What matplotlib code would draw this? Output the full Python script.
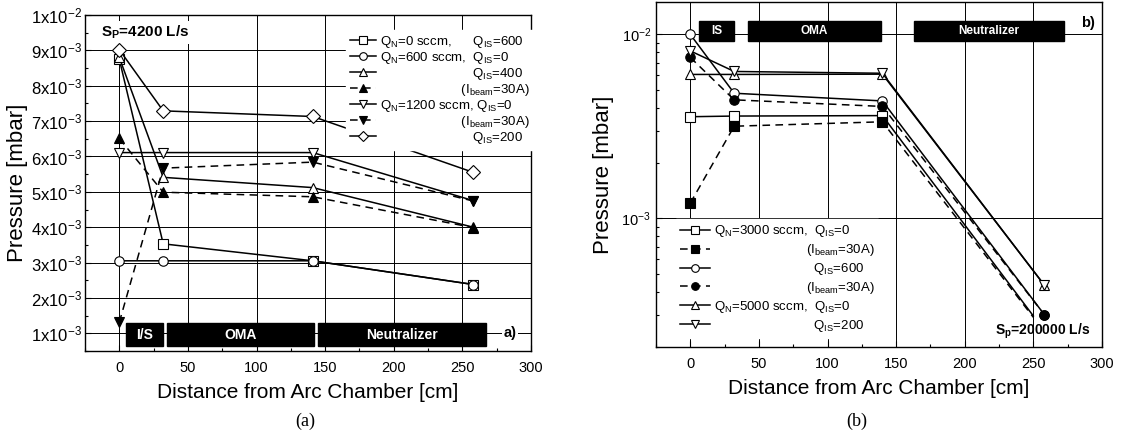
import matplotlib
matplotlib.use("Agg")
from matplotlib import pyplot as plt
from matplotlib.patches import Rectangle
from matplotlib.lines import Line2D
from matplotlib.ticker import MultipleLocator, LogLocator, NullFormatter

plt.rcParams['font.family'] = ['Liberation Sans', 'DejaVu Sans']
plt.rcParams['mathtext.fontset'] = 'custom'
plt.rcParams['mathtext.rm'] = 'Liberation Sans'
plt.rcParams['mathtext.it'] = 'Liberation Sans'
plt.rcParams['mathtext.bf'] = 'Liberation Sans:bold'

# ---- panel (a): Sp = 4200 L/s, pressure in mbar
dist_a = [0, 32, 141, 258]
qn0_qis600 = [8.75e-3, 3.53e-3, 3.05e-3, 2.38e-3]
qn600_qis0 = [3.05e-3, 3.05e-3, 3.05e-3, 2.38e-3]
qn600_qis400 = [8.8e-3, 5.41e-3, 5.12e-3, 4.0e-3]
qn600_qis400_beam = [6.51e-3, 4.99e-3, 4.86e-3, 3.99e-3]
qn1200_qis0 = [6.11e-3, 6.11e-3, 6.11e-3, 4.75e-3]
qn1200_qis0_beam = [1.31e-3, 5.67e-3, 5.84e-3, 4.74e-3]
qn1200_qis200 = [9.02e-3, 7.29e-3, 7.13e-3, 5.55e-3]

sp = ' '
labels_a = [
    r'Q$_{N}$=0 sccm,' + sp * 6 + r'Q$_{IS}$=600',
    r'Q$_{N}$=600 sccm,' + sp * 2 + r'Q$_{IS}$=0',
    sp * 25 + r'Q$_{IS}$=400',
    sp * 22 + r'(I$_{beam}$=30A)',
    r'Q$_{N}$=1200 sccm,' + sp + r'Q$_{IS}$=0',
    sp * 22 + r'(I$_{beam}$=30A)',
    sp * 25 + r'Q$_{IS}$=200',
]

# ---- panel (b): Sp = 200000 L/s
dist_b = [0, 32, 140, 258]
dist_b_sq = [0, 32, 140, 250]
qn3000_qis0 = [3.57e-3, 3.6e-3, 3.62e-3, 2.95e-4]
qn3000_qis0_beam = [1.21e-3, 3.17e-3, 3.35e-3, 2.9e-4]
qn3000_qis600 = [1.0e-2, 4.79e-3, 4.35e-3, 3.0e-4]
qn3000_qis600_beam = [7.5e-3, 4.41e-3, 4.06e-3, 3.0e-4]
qn5000_qis0 = [6.06e-3, 6.06e-3, 6.08e-3, 4.34e-4]
qn5000_qis200 = [8.14e-3, 6.29e-3, 6.15e-3, 4.34e-4]

labels_b = [
    r'Q$_{N}$=3000 sccm,' + sp * 2 + r'Q$_{IS}$=0',
    sp * 25 + r'(I$_{beam}$=30A)',
    sp * 27 + r'Q$_{IS}$=600',
    sp * 25 + r'(I$_{beam}$=30A)',
    r'Q$_{N}$=5000 sccm,' + sp * 2 + r'Q$_{IS}$=0',
    sp * 27 + r'Q$_{IS}$=200',
]

sections_a = [('I/S', 5, 31.5), ('OMA', 35, 142), ('Neutralizer', 144.5, 267)]
sections_b = [('IS', 6, 32), ('OMA', 42, 139), ('Neutralizer', 163, 272)]

yticks_a = [1e-3, 2e-3, 3e-3, 4e-3, 5e-3, 6e-3, 7e-3, 8e-3, 9e-3, 1e-2]
yticklabels_a = [r'%dx10$^{-3}$' % i for i in range(1, 10)] + [r'1x10$^{-2}$']

SOLID = '-'
DASH = (0, (5, 3.5))


def style(ax):
    ax.set_xlim(-25, 300)
    ax.xaxis.set_major_locator(MultipleLocator(50))
    ax.xaxis.set_minor_locator(MultipleLocator(25))
    ax.tick_params(which='both', direction='in', labelsize=10.5, width=0.8)
    ax.tick_params(which='major', length=4)
    ax.tick_params(which='minor', length=2)
    ax.tick_params(axis='x', pad=7)
    for s in ax.spines.values():
        s.set_linewidth(1.0)
    ax.grid(True, which='major', color='black', linewidth=0.7)
    ax.set_axisbelow(True)
    ax.set_xlabel('Distance from Arc Chamber [cm]', fontsize=15, labelpad=6)
    ax.set_ylabel('Pressure [mbar]', fontsize=16)


def series(ax, x, y, marker, filled, ls, **kw):
    ax.plot(x, y, color='black', linestyle=ls, linewidth=1.1, marker=marker,
            markersize=6.8, markeredgewidth=0.8, markeredgecolor='black',
            markerfacecolor='black' if filled else 'white', zorder=3, **kw)
    return Line2D([], [], color='black', linestyle=ls, linewidth=1.1, marker=marker,
                  markersize=5.5, markeredgewidth=0.8, markeredgecolor='black',
                  markerfacecolor='black' if filled else 'white')


def boxes(ax, sections, y0, y1, size):
    for name, a, b in sections:
        ax.add_patch(Rectangle((a, y0), b - a, y1 - y0, facecolor='black',
                               edgecolor='black', zorder=4))
        if ax.get_yscale() == 'log':
            ym = (y0 * y1) ** 0.5
        else:
            ym = (y0 + y1) / 2
        ax.text((a + b) / 2, ym, name, color='white', fontsize=size, fontweight='bold',
                ha='center', va='center', zorder=5)


fig = plt.figure(figsize=(11.24, 4.37), dpi=100)

# ---------------- (a)
ax1 = fig.add_axes([0.0756, 0.1968, 0.3968, 0.7689])
style(ax1)
ax1.set_ylim(0.5e-3, 1e-2)
ax1.set_yticks(yticks_a)
ax1.set_yticklabels(yticklabels_a)
ax1.tick_params(axis='y', labelsize=12, pad=2)
ax1.yaxis.set_minor_locator(MultipleLocator(0.5e-3))
ax1.yaxis.set_label_coords(-0.128, 0.5)

h = []
h.append(series(ax1, dist_a, qn0_qis600, 's', False, SOLID))
h.append(series(ax1, dist_a, qn600_qis0, 'o', False, SOLID))
h.append(series(ax1, dist_a, qn600_qis400, '^', False, SOLID))
h.append(series(ax1, dist_a, qn600_qis400_beam, '^', True, DASH))
h.append(series(ax1, dist_a, qn1200_qis0, 'v', False, SOLID))
h.append(series(ax1, dist_a, qn1200_qis0_beam, 'v', True, DASH))
h.append(series(ax1, dist_a, qn1200_qis200, 'D', False, SOLID))

boxes(ax1, sections_a, 0.65e-3, 1.28e-3, 10)

leg = ax1.legend(h, labels_a, loc='upper left', bbox_to_anchor=(0.585, 0.955),
                 fontsize=9.5, frameon=True, fancybox=False, framealpha=1,
                 edgecolor='white', facecolor='white', handlelength=2.0,
                 handletextpad=0.3, labelspacing=0.0, borderpad=0.3, borderaxespad=0)
leg.set_zorder(6)

ax1.text(0.035, 0.948, r'S$_{\mathbf{P}}$=4200 L/s', transform=ax1.transAxes,
         fontsize=11, fontweight='bold', ha='left', va='center', zorder=2,
         bbox=dict(facecolor='white', edgecolor='none', pad=2))
ax1.text(0.967, 1e-3, 'a)', transform=ax1.get_yaxis_transform(), fontsize=10.5,
         fontweight='bold', ha='right', va='center', zorder=6,
         bbox=dict(facecolor='white', edgecolor='none', pad=1))

# ---------------- (b)
ax2 = fig.add_axes([0.5836, 0.2059, 0.3968, 0.7895])
style(ax2)
ax2.set_yscale('log')
ax2.set_ylim(2e-4, 1.5e-2)
ax2.yaxis.set_major_locator(LogLocator(base=10, numticks=10))
ax2.yaxis.set_minor_locator(LogLocator(base=10, subs=range(2, 10), numticks=10))
ax2.yaxis.set_minor_formatter(NullFormatter())
ax2.yaxis.set_label_coords(-0.094, 0.5)

h2 = []
h2.append(series(ax2, dist_b_sq, qn3000_qis0, 's', False, SOLID, markevery=[0, 1, 2]))
h2.append(series(ax2, dist_b_sq, qn3000_qis0_beam, 's', True, DASH, markevery=[0, 1, 2]))
h2.append(series(ax2, dist_b, qn3000_qis600, 'o', False, SOLID))
h2.append(series(ax2, dist_b, qn3000_qis600_beam, 'o', True, DASH))
h2.append(series(ax2, dist_b, qn5000_qis0, '^', False, SOLID))
h2.append(series(ax2, dist_b, qn5000_qis200, 'v', False, SOLID))

boxes(ax2, sections_b, 9.16e-3, 1.186e-2, 8.5)

leg2 = ax2.legend(h2, labels_b, loc='upper left', bbox_to_anchor=(0.045, 0.37),
                  fontsize=9.5, frameon=True, fancybox=False, framealpha=1,
                  edgecolor='white', facecolor='white', handlelength=2.3,
                  handletextpad=0.25, labelspacing=0.22, borderpad=0.3, borderaxespad=0)
leg2.set_zorder(6)

ax2.text(0.985, 0.94, 'b)', transform=ax2.transAxes, fontsize=10.5,
         fontweight='bold', ha='right', va='center', zorder=6)
ax2.text(0.975, 0.045, r'S$_{\mathbf{p}}$=200000 L/s', transform=ax2.transAxes,
         fontsize=10, fontweight='bold', ha='right', va='center', zorder=6)

fig.text(0.2715, 0.025, '(a)', family='Liberation Serif', fontsize=13, ha='center')
fig.text(0.7625, 0.025, '(b)', family='Liberation Serif', fontsize=13, ha='center')

fig.savefig('out.png', dpi=100)
